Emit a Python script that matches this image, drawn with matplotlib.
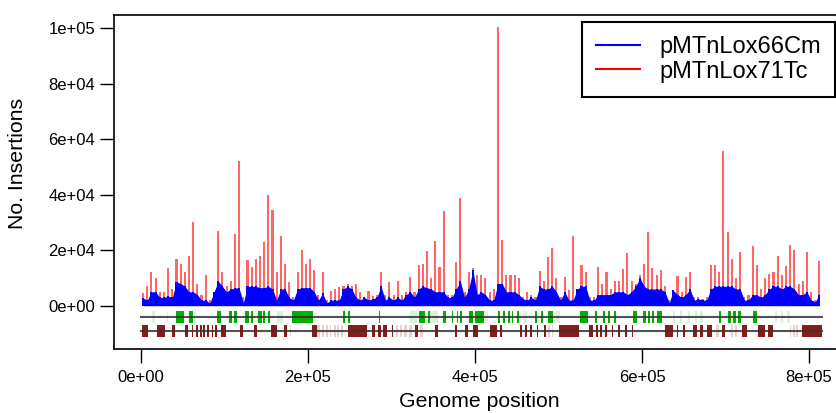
import matplotlib
matplotlib.use("Agg")
import numpy as np
import matplotlib.pyplot as plt
from matplotlib.lines import Line2D

# insertion counts per 5 kb window, in thousands
BIN_BP = 5000
red_k = [
    4.6, 7, 12, 10, 5, 5, 13.5, 6, 17, 15,
    12, 18, 30, 8, 4, 11, 2, 4, 27, 12,
    7, 9, 26, 52, 3, 16.5, 14, 17, 18, 23,
    40, 34.5, 12, 25, 15, 8.4, 3, 12, 20, 15,
    17, 13, 4, 12, 2, 5.4, 6, 6.6,
    7, 8, 7, 8, 5, 3, 5.4, 3.5, 4, 12,
    4, 8.4, 4, 9, 4, 5, 10.4, 5, 14.8, 15,
    19.8, 10, 23.4, 14, 34, 4, 4, 15.7, 38.8, 5,
    12, 13.5, 11, 11, 10, 5, 6, 100.5, 23.8, 11,
    11, 11, 10, 3, 5, 4, 3, 12.4, 9, 17.4, 20.8, 10,
    3, 10.5, 5.8, 25, 3, 14.5, 12, 3, 3, 13.8,
    8, 12, 6, 9, 9, 13.4, 19, 9, 8, 11,
    15, 26.5, 13.5, 11, 13, 7, 2, 5.5, 10.8, 5,
    10.3, 12, 3, 3, 2.5, 3, 14.5, 14.8, 12, 55.8,
    26.4, 16.8, 10, 19.3, 3, 4, 21.4, 14.5, 6, 10,
    11.5, 12, 17.8, 11, 14.2, 22, 20, 8, 9, 19.2, 5, 2, 16,
]
blue_k = [
    2.8, 2, 5, 5, 3, 3, 3.5, 3, 8.5, 8,
    7, 5, 5, 4, 2, 2, 1, 5, 8.8, 7,
    5, 6, 6.4, 6.4, 1, 7, 7, 7, 6.5, 6.5,
    7, 6, 2, 6, 6, 3, 2, 6, 6.5, 6.5,
    6.5, 5, 2, 4.5, 1, 2, 2, 2,
    6, 7, 6, 3, 2, 3, 2, 2.5, 3, 7,
    2, 3, 2, 3, 2, 4, 5, 3, 6, 7,
    6.5, 6, 5, 5, 5, 3, 3, 6, 8.8, 3,
    6, 13, 4, 5, 4, 2, 2, 8, 8, 5,
    5, 5, 4, 2.5, 2, 3, 2, 7, 6, 6, 7, 5,
    2, 5, 2, 2, 6, 7, 7, 2, 2, 4,
    4, 4, 4, 5, 5, 5, 4, 5, 7, 10,
    7, 6, 6, 6, 6, 5, 1, 5.5, 4, 3,
    4, 6, 2, 2.5, 2, 2, 6, 7, 7, 7,
    7, 7, 6, 6, 2, 2, 4, 4, 3, 4,
    6, 7, 7, 6, 7, 7, 6, 4, 4, 5, 2, 1.5, 4,
]

genome_kb = 816

# gene tracks, (start kb, end kb)
green_genes = [
    (41.5, 51.5), (57.9, 62.6), (91.4, 95.4), (105.8, 108.6), (111.8, 115.4),
    (124.6, 129.7), (131.7, 133.8), (140.5, 144.5), (146.5, 148.5), (151.7, 154.5),
    (181.2, 205.6), (242.3, 244.3), (248.3, 250.3), (285, 286), (333.3, 340.1),
    (343.3, 346.1), (362, 365), (372.1, 374), (378, 380), (382, 384.8),
    (393.2, 398), (400, 410.8), (428, 430), (434, 436), (440, 442), (444, 446),
    (450, 453), (472, 474), (479, 481), (487, 494), (525.7, 535.7), (543.7, 546.5),
    (553.6, 555.6), (559.6, 561.6), (566.8, 568.8), (589.6, 593.6), (600.8, 604.8),
    (606.8, 609.6), (611.6, 614.8), (617.6, 623.6), (692.6, 694.2), (703.4, 706.2),
    (709.4, 712.2), (715.4, 718.2), (733.3, 737.4),
]
green_faint = [
    (13, 17), (31, 32), (64, 66), (163, 170), (322, 330), (346, 356), (412, 416),
    (457, 462), (497, 502), (637, 640), (645, 648), (655, 658), (663, 666),
    (670, 673), (759, 762), (766, 769), (774, 777),
]
maroon_genes = [
    (0.8, 8.7), (18.8, 28.7), (36.8, 40.7), (52.7, 56.6), (60.7, 62.6), (65.9, 67.8),
    (70.7, 72.7), (74.6, 76.6), (79.4, 81.4), (84.6, 86.5), (88.6, 90.6),
    (95.4, 101.4), (118.6, 121.8), (135.7, 138.5), (155.3, 162.5), (171.6, 174.5),
    (204.4, 210.4), (248.3, 270.3), (276.3, 280.2), (284.2, 287), (290.2, 294.2),
    (300.2, 302.2), (328.1, 332.1), (352.1, 356.1), (376, 378), (388, 392),
    (398, 404), (418, 426), (430, 432), (454, 456), (460, 462), (466, 468),
    (474, 476), (482.6, 485), (501, 524), (537, 541), (545, 547), (550, 552),
    (556, 558), (563.7, 565.7), (571.6, 573.6), (579.6, 581.6), (587.6, 589.6),
    (627.5, 637.5), (641.6, 643.6), (649.5, 651.5), (661.4, 665.4), (669.4, 673.4),
    (677.4, 681.4), (681.5, 683.5), (695.4, 699.4), (719.4, 725.4), (739.3, 747.3),
    (751.3, 757.3), (791.2, 815.2),
]
maroon_faint = [
    (178, 180), (211, 214), (217, 219), (222, 224), (226, 228), (231, 233),
    (235, 237), (240, 242), (305, 308), (310, 313), (315, 318), (321, 324),
    (334, 338), (488, 490), (492, 494), (689, 692), (706, 709), (711, 714),
    (777, 779), (781, 783), (785, 787),
]

x_ticks = [0, 200000, 400000, 600000, 800000]
x_labels = ["0e+00", "2e+05", "4e+05", "6e+05", "8e+05"]
y_ticks = [0, 20000, 40000, 60000, 80000, 100000]
y_labels = ["0e+00", "2e+04", "4e+04", "6e+04", "8e+04", "1e+05"]
series = ["pMTnLox66Cm", "pMTnLox71Tc"]

plt.rcParams["font.family"] = ["Liberation Sans", "DejaVu Sans"]

fig = plt.figure(figsize=(8.37, 4.13), dpi=100)
ax = fig.add_axes([0.1362, 0.15496, 0.87336, 0.80872])

pos = np.arange(len(red_k)) * BIN_BP + BIN_BP / 2
red = np.array(red_k) * 1000
blue = np.array(blue_k) * 1000
ax.bar(pos, red, width=BIN_BP * 0.5, color="red", alpha=0.6, linewidth=0)
ax.fill_between(pos, 0, blue, color="blue", linewidth=0)
ax.bar(pos, blue, width=BIN_BP * 0.5, color="blue", linewidth=0)

# gene tracks under the profile
green_y, maroon_y, half_h = -3970, -9120, 2100


def track(genes, y, color, alpha):
    spans = [(s * 1000, (e - s) * 1000) for s, e in genes]
    ax.broken_barh(spans, (y - half_h, 2 * half_h), facecolors=color,
                   alpha=alpha, linewidth=0)


track(green_faint, green_y, "#00b000", 0.15)
track(green_genes, green_y, "#00b000", 1.0)
track(maroon_faint, maroon_y, "#8b1a1a", 0.2)
track(maroon_genes, maroon_y, "#8b1a1a", 1.0)
for y in (green_y, maroon_y):
    ax.plot([0, genome_kb * 1000], [y, y], color="#333333", lw=1.5, alpha=0.85)

ax.set_xlim(-32335, 843110)
ax.set_ylim(-15610, 104800)
ax.set_xticks(x_ticks)
ax.set_xticklabels(x_labels)
ax.set_yticks(y_ticks)
ax.set_yticklabels(y_labels)
ax.tick_params(axis="both", length=10, width=1, labelsize=12)
ax.tick_params(axis="x", pad=5)
ax.tick_params(axis="y", pad=3.5)
for side in ("left", "top", "bottom", "right"):
    ax.spines[side].set_linewidth(1.2)

ax.set_xlabel("Genome position", fontsize=15.3)
ax.xaxis.set_label_coords(0.5, -0.128)
ax.set_ylabel("No. Insertions", fontsize=15.3)
ax.yaxis.set_label_coords(-0.119, 0.557)

handles = [Line2D([], [], color="blue", lw=1.5), Line2D([], [], color="red", lw=1.5)]
leg = fig.legend(handles, series, loc="upper right",
                 bbox_to_anchor=(835 / 837, 1 - 22 / 413), fontsize=17,
                 fancybox=False, edgecolor="black", framealpha=1,
                 borderpad=0.6, handlelength=1.86, handletextpad=0.8,
                 labelspacing=0.1, borderaxespad=0)
leg.get_frame().set_linewidth(1.5)

fig.savefig("out.png", dpi=100)
